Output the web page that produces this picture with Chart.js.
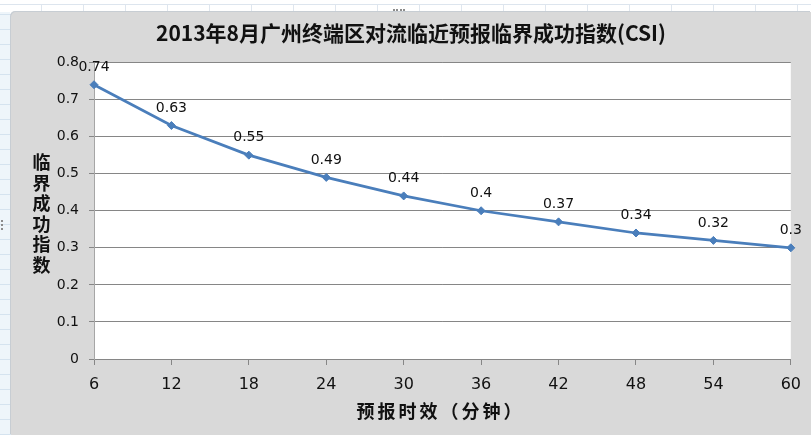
<!DOCTYPE html>
<html>
<head>
<meta charset="utf-8">
<script src="https://cdn.jsdelivr.net/npm/chart.js@4/dist/chart.umd.min.js"></script>
<style>
  html, body { margin: 0; padding: 0; width: 811px; height: 435px; overflow: hidden; }
  body {
    background-color: #ffffff;
    background-image:
      repeating-linear-gradient(to bottom, transparent 0 14px, #d5e3ef 14px 15px),
      linear-gradient(to right, #eef5fa 0 10px, transparent 10px);
    position: relative;
  }
  #sheetTop {
    position: absolute; left: 0; top: 0; width: 811px; height: 12px;
    background-color: #ffffff;
    background-image: repeating-linear-gradient(to right, transparent 0 41px, #dfe6ee 41px 42px);
    border-top: 4px solid #ffffff;
    box-sizing: border-box;
  }
  #sheetTop::before {
    content: ""; position: absolute; left: 0; right: 0; top: 0; height: 1px; background: #dde5ee;
  }
  #frame {
    position: absolute; left: 11px; top: 12px; width: 800px; height: 423px;
    background: #d9d9d9; border-top-left-radius: 5px;
    box-shadow: -1px -1px 0 #c7cdd3;
  }
  .grip { position: absolute; border-top: 2px dotted #8c8c8c; }
  canvas { display: block; }
</style>
</head>
<body>
<div id="sheetTop"></div>
<div class="grip" style="left:393px; top:9px; width:12px;"></div>
<div class="grip" style="left:1px; top:220px; width:4px; height:10px; border-top:none; border-left:2px dotted #8c8c8c;"></div>
<div id="frame"><canvas id="chart" width="800" height="423"></canvas></div>
<script>
// Lead time (minutes) and critical success index for each step
const leadTimes = ['6', '12', '18', '24', '30', '36', '42', '48', '54', '60'];
const csiValues = [0.74, 0.63, 0.55, 0.49, 0.44, 0.4, 0.37, 0.34, 0.32, 0.3];
const yTicks = [0, 0.1, 0.2, 0.3, 0.4, 0.5, 0.6, 0.7, 0.8];

const chartTitle = '2013年8月广州终端区对流临近预报临界成功指数(CSI)';
const xTitle = '预报时效（分钟）';
const yTitle = '临界成功指数';

const numFont = '"DejaVu Sans", Verdana, sans-serif';
const cjkFont = '"Noto Sans CJK SC", "Noto Sans", sans-serif';

// White plot area behind the gridlines
const plotBackground = {
  id: 'plotBackground',
  beforeDraw(chart) {
    const { ctx, chartArea: a } = chart;
    ctx.save();
    ctx.fillStyle = '#ffffff';
    ctx.fillRect(a.left, a.top, a.right - a.left, a.bottom - a.top);
    ctx.restore();
  }
};

// Chart title centred on the whole frame, plus the two axis titles:
// y stacked one character per line, x with wide character spacing
const titles = {
  id: 'titles',
  afterDraw(chart) {
    const { ctx, chartArea: a } = chart;
    ctx.save();
    ctx.fillStyle = '#111111';
    ctx.textAlign = 'center';
    ctx.textBaseline = 'middle';

    ctx.font = 'bold 21px ' + cjkFont;
    ctx.fillText(chartTitle, chart.width / 2, 21);

    ctx.font = 'bold 18px ' + cjkFont;
    const yChars = Array.from(yTitle);
    const yStep = 20.6;
    const cy = (a.top + a.bottom) / 2 + 3;
    const y0 = cy - yStep * (yChars.length - 1) / 2;
    yChars.forEach((c, i) => ctx.fillText(c, 30.5, y0 + i * yStep));

    const xChars = Array.from(xTitle);
    const xStep = 21;
    const cx = (a.left + a.right) / 2 - 3.5;
    const x0 = cx - xStep * (xChars.length - 1) / 2;
    xChars.forEach((c, i) => ctx.fillText(c, x0 + i * xStep, chart.height - 24));
    ctx.restore();
  }
};

// Value labels above each point
const pointLabels = {
  id: 'pointLabels',
  afterDatasetsDraw(chart) {
    const { ctx } = chart;
    const meta = chart.getDatasetMeta(0);
    const values = chart.data.datasets[0].data;
    ctx.save();
    ctx.font = '14px ' + numFont;
    ctx.fillStyle = '#111111';
    ctx.textAlign = 'center';
    ctx.textBaseline = 'middle';
    meta.data.forEach((pt, i) => {
      ctx.fillText(String(values[i]), pt.x, pt.y - 17.5);
    });
    ctx.restore();
  }
};

new Chart(document.getElementById('chart'), {
  type: 'line',
  data: {
    labels: leadTimes,
    datasets: [{
      data: csiValues,
      borderColor: '#4a7ebb',
      backgroundColor: '#4a7ebb',
      borderWidth: 2.75,
      pointStyle: 'rectRot',
      pointRadius: 4,
      pointBorderWidth: 1,
      tension: 0,
      fill: false,
      clip: false
    }]
  },
  options: {
    responsive: false,
    animation: false,
    devicePixelRatio: 1,
    layout: { padding: { left: 0, right: 16, top: 50.5, bottom: 0 } },
    plugins: {
      legend: { display: false },
      tooltip: { enabled: false },
      title: { display: false }
    },
    scales: {
      x: {
        type: 'category',
        offset: false,
        grid: {
          drawOnChartArea: false,
          drawTicks: true,
          tickLength: 6,
          color: '#868686'
        },
        border: { display: true, color: '#868686', width: 1 },
        ticks: {
          color: '#111111',
          font: { family: numFont, size: 16 },
          padding: 10,
          maxRotation: 0,
          autoSkip: false
        },
        afterFit(scale) { scale.height = 76; }
      },
      y: {
        min: 0,
        max: 0.8,
        afterBuildTicks(scale) { scale.ticks = yTicks.map(v => ({ value: v })); },
        grid: {
          drawTicks: true,
          tickLength: 5,
          color: '#868686'
        },
        border: { display: true, color: '#a6a6a6', width: 1 },
        ticks: {
          color: '#111111',
          font: { family: numFont, size: 14 },
          padding: 10,
          callback: v => String(Math.round(v * 10) / 10)
        },
        afterFit(scale) { scale.width = 83; }
      }
    }
  },
  plugins: [plotBackground, titles, pointLabels]
});
</script>
</body>
</html>
